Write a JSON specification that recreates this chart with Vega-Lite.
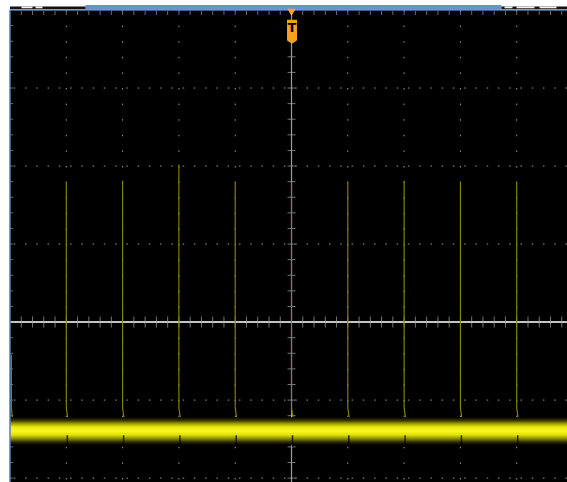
{
  "$schema": "https://vega.github.io/schema/vega-lite/v6.json",
  "width": 557,
  "height": 472,
  "autosize": {"type": "none"},
  "padding": {"left": 10, "top": 10, "right": 0, "bottom": 0},
  "background": "white",
  "config": {"view": {"fill": "black", "stroke": null}},
  "datasets": {
    "one": [{}],
    "majx": [{"x":-4},{"x":-3},{"x":-2},{"x":-1},{"x":1},{"x":2},{"x":3},{"x":4}],
    "majy": [{"y":-2},{"y":-1},{"y":1},{"y":2},{"y":3}],
    "xminor": [{"x":-4.8},{"x":-4.6},{"x":-4.4},{"x":-4.2},{"x":-4},{"x":-3.8},{"x":-3.6},{"x":-3.4},{"x":-3.2},{"x":-3},{"x":-2.8},{"x":-2.6},{"x":-2.4},{"x":-2.2},{"x":-2},{"x":-1.8},{"x":-1.6},{"x":-1.4},{"x":-1.2},{"x":-1},{"x":-0.8},{"x":-0.6},{"x":-0.4},{"x":-0.2},{"x":0.2},{"x":0.4},{"x":0.6},{"x":0.8},{"x":1},{"x":1.2},{"x":1.4},{"x":1.6},{"x":1.8},{"x":2},{"x":2.2},{"x":2.4},{"x":2.6},{"x":2.8},{"x":3},{"x":3.2},{"x":3.4},{"x":3.6},{"x":3.8},{"x":4},{"x":4.2},{"x":4.4},{"x":4.6},{"x":4.8}],
    "yminor": [{"y":-2},{"y":-1.8},{"y":-1.6},{"y":-1.4},{"y":-1.2},{"y":-1},{"y":-0.8},{"y":-0.6},{"y":-0.4},{"y":-0.2},{"y":0.2},{"y":0.4},{"y":0.6},{"y":0.8},{"y":1},{"y":1.2},{"y":1.4},{"y":1.6},{"y":1.8},{"y":2},{"y":2.2},{"y":2.4},{"y":2.6},{"y":2.8},{"y":3},{"y":3.2},{"y":3.4},{"y":3.6},{"y":3.8}],
    "spikes": [
      {"s":-5,"o":0,"x":-4.975,"y":-0.42},{"s":-5,"o":1,"x":-4.975,"y":-1.1},{"s":-5,"o":2,"x":-4.95,"y":-1.28},{"s":-5,"o":3,"x":-4.935,"y":-1.36},
      {"s":-4,"o":0,"x":-4,"y":1.79},{"s":-4,"o":1,"x":-4,"y":-1.1},{"s":-4,"o":2,"x":-3.965,"y":-1.28},{"s":-4,"o":3,"x":-3.95,"y":-1.36},
      {"s":-3,"o":0,"x":-3,"y":1.81},{"s":-3,"o":1,"x":-3,"y":-1.1},{"s":-3,"o":2,"x":-2.965,"y":-1.28},{"s":-3,"o":3,"x":-2.95,"y":-1.36},
      {"s":-2,"o":0,"x":-2,"y":2.02},{"s":-2,"o":1,"x":-2,"y":-1.1},{"s":-2,"o":2,"x":-1.965,"y":-1.28},{"s":-2,"o":3,"x":-1.95,"y":-1.36},
      {"s":-1,"o":0,"x":-1,"y":1.79},{"s":-1,"o":1,"x":-1,"y":-1.1},{"s":-1,"o":2,"x":-0.965,"y":-1.28},{"s":-1,"o":3,"x":-0.95,"y":-1.36},
      {"s":0,"o":0,"x":0,"y":1.8},{"s":0,"o":1,"x":0,"y":-1.1},{"s":0,"o":2,"x":0.035,"y":-1.28},{"s":0,"o":3,"x":0.05,"y":-1.36},
      {"s":1,"o":0,"x":1,"y":1.79},{"s":1,"o":1,"x":1,"y":-1.1},{"s":1,"o":2,"x":1.035,"y":-1.28},{"s":1,"o":3,"x":1.05,"y":-1.36},
      {"s":2,"o":0,"x":2,"y":1.81},{"s":2,"o":1,"x":2,"y":-1.1},{"s":2,"o":2,"x":2.035,"y":-1.28},{"s":2,"o":3,"x":2.05,"y":-1.36},
      {"s":3,"o":0,"x":3,"y":1.79},{"s":3,"o":1,"x":3,"y":-1.1},{"s":3,"o":2,"x":3.035,"y":-1.28},{"s":3,"o":3,"x":3.05,"y":-1.36},
      {"s":4,"o":0,"x":4,"y":1.79},{"s":4,"o":1,"x":4,"y":-1.1},{"s":4,"o":2,"x":4.035,"y":-1.28},{"s":4,"o":3,"x":4.05,"y":-1.36}
    ],
    "pulses": [{"x":-4},{"x":-3},{"x":-2},{"x":-1},{"x":0},{"x":1},{"x":2},{"x":3},{"x":4}],
    "band": [{"x0":-5,"x1":4.9,"hi":-1.22,"lo":-1.575}],
    "blueband": [{"x0":-3.659,"x1":3.73,"hi":4.065,"lo":4.005}],
    "blackbars": [{"x0":-5,"x1":-3.659,"hi":4.045,"lo":4.012},{"x0":3.73,"x1":4.9,"hi":4.045,"lo":4.012}],
    "whitebits": [{"x0":-4.796,"x1":-4.6,"hi":4.045,"lo":4.022},{"x0":-4.547,"x1":-4.422,"hi":4.045,"lo":4.022},{"x0":3.783,"x1":3.925,"hi":4.045,"lo":4.022},{"x0":3.996,"x1":4.316,"hi":4.045,"lo":4.022},{"x0":4.405,"x1":4.707,"hi":4.045,"lo":4.022}]
  },
  "layer": [
    {
      "data": {"name": "majx"},
      "mark": {"type": "rule", "color": "#999999", "strokeWidth": 1, "strokeDash": [1.5, 14.1]},
      "encoding": {
        "x": {"field": "x", "type": "quantitative", "scale": {"domain": [-5, 4.893], "nice": false, "zero": false}, "axis": null}
      }
    },
    {
      "data": {"name": "majy"},
      "mark": {"type": "rule", "color": "#999999", "strokeWidth": 1, "strokeDash": [1.5, 9.76]},
      "encoding": {
        "y": {"field": "y", "type": "quantitative", "scale": {"domain": [-2.05, 4], "nice": false, "zero": false}, "axis": null}
      }
    },
    {
      "data": {"name": "one"},
      "mark": {"type": "rule", "color": "#c4c4c4", "strokeWidth": 2},
      "encoding": {"y": {"datum": 0, "type": "quantitative", "axis": null}}
    },
    {
      "data": {"name": "one"},
      "mark": {"type": "rule", "color": "#9c9c9c", "strokeWidth": 1.2},
      "encoding": {"x": {"datum": 0, "type": "quantitative", "axis": null}}
    },
    {
      "data": {"name": "xminor"},
      "mark": {"type": "tick", "orient": "vertical", "color": "#a6a6a6", "size": 11, "thickness": 1},
      "encoding": {"x": {"field": "x", "type": "quantitative", "axis": null}, "y": {"datum": 0, "type": "quantitative", "axis": null}}
    },
    {
      "data": {"name": "xminor"},
      "mark": {"type": "tick", "orient": "vertical", "color": "#9a9a9a", "size": 4, "thickness": 1},
      "encoding": {"x": {"field": "x", "type": "quantitative", "axis": null}, "y": {"datum": 3.96, "type": "quantitative", "axis": null}}
    },
    {
      "data": {"name": "yminor"},
      "mark": {"type": "tick", "orient": "horizontal", "color": "#a6a6a6", "size": 8, "thickness": 1},
      "encoding": {"y": {"field": "y", "type": "quantitative", "axis": null}, "x": {"datum": 0, "type": "quantitative", "axis": null}}
    },
    {
      "data": {"name": "yminor"},
      "mark": {"type": "tick", "orient": "horizontal", "color": "#9a9a9a", "size": 3, "thickness": 1},
      "encoding": {"y": {"field": "y", "type": "quantitative", "axis": null}, "x": {"datum": -4.97, "type": "quantitative", "axis": null}}
    },
    {
      "data": {"name": "spikes"},
      "mark": {"type": "line", "color": "#8a8a00", "strokeWidth": 1.1},
      "encoding": {
        "x": {"field": "x", "type": "quantitative", "axis": null},
        "y": {"field": "y", "type": "quantitative", "axis": null},
        "detail": {"field": "s"},
        "order": {"field": "o"}
      }
    },
    {
      "data": {"name": "band"},
      "mark": {"type": "rect", "fill": {"gradient": "linear", "x1": 0, "y1": 0, "x2": 0, "y2": 1, "stops": [
        {"offset": 0, "color": "#000000"},
        {"offset": 0.12, "color": "#3a3a00"},
        {"offset": 0.24, "color": "#a6a600"},
        {"offset": 0.36, "color": "#ecec12"},
        {"offset": 0.5, "color": "#f6f626"},
        {"offset": 0.64, "color": "#e2e200"},
        {"offset": 0.77, "color": "#8c8c00"},
        {"offset": 0.9, "color": "#2a2a00"},
        {"offset": 1, "color": "#000000"}]}},
      "encoding": {
        "x": {"field": "x0", "type": "quantitative", "axis": null},
        "x2": {"field": "x1"},
        "y": {"field": "hi", "type": "quantitative", "axis": null},
        "y2": {"field": "lo"}
      }
    },
    {
      "data": {"name": "pulses"},
      "mark": {"type": "rule", "color": "#000000", "strokeWidth": 1.5, "opacity": 0.75, "xOffset": 1},
      "encoding": {
        "x": {"field": "x", "type": "quantitative", "axis": null},
        "y": {"datum": -1.45, "type": "quantitative", "axis": null},
        "y2": {"datum": -1.6}
      }
    },
    {
      "data": {"name": "one"},
      "mark": {"type": "rule", "color": "#4f80b8", "strokeWidth": 1.5},
      "encoding": {"y": {"datum": 4, "type": "quantitative", "axis": null}}
    },
    {
      "data": {"name": "one"},
      "mark": {"type": "rule", "color": "#4f80b8", "strokeWidth": 1.5},
      "encoding": {"x": {"datum": -5, "type": "quantitative", "axis": null}}
    },
    {
      "data": {"name": "blueband"},
      "mark": {"type": "rect", "color": "#6394cc"},
      "encoding": {
        "x": {"field": "x0", "type": "quantitative", "axis": null}, "x2": {"field": "x1"},
        "y": {"field": "hi", "type": "quantitative", "axis": null}, "y2": {"field": "lo"}
      }
    },
    {
      "data": {"name": "blackbars"},
      "mark": {"type": "rect", "color": "#111111"},
      "encoding": {
        "x": {"field": "x0", "type": "quantitative", "axis": null}, "x2": {"field": "x1"},
        "y": {"field": "hi", "type": "quantitative", "axis": null}, "y2": {"field": "lo"}
      }
    },
    {
      "data": {"name": "whitebits"},
      "mark": {"type": "rect", "color": "#f2f2f2"},
      "encoding": {
        "x": {"field": "x0", "type": "quantitative", "axis": null}, "x2": {"field": "x1"},
        "y": {"field": "hi", "type": "quantitative", "axis": null}, "y2": {"field": "lo"}
      }
    },
    {
      "data": {"name": "one"},
      "mark": {"type": "point", "shape": "triangle-down", "filled": true, "color": "#f5a623", "size": 70, "opacity": 1},
      "encoding": {"x": {"datum": 0, "type": "quantitative", "axis": null}, "y": {"datum": 3.97, "type": "quantitative", "axis": null}}
    },
    {
      "data": {"name": "one"},
      "mark": {"type": "point", "shape": "M-1,-2.4L1,-2.4L1,1.7L0,2.4L-1,1.7Z", "filled": true, "color": "#f5a020", "size": 100, "opacity": 1, "xOffset": 0.5},
      "encoding": {"x": {"datum": 0, "type": "quantitative", "axis": null}, "y": {"datum": 3.72, "type": "quantitative", "axis": null}}
    },
    {
      "data": {"name": "one"},
      "mark": {"type": "text", "text": "T", "font": "DejaVu Sans", "fontWeight": "bold", "fontSize": 13, "color": "#000000", "align": "center", "baseline": "middle", "dx": 0.5},
      "encoding": {"x": {"datum": 0, "type": "quantitative", "axis": null}, "y": {"datum": 3.77, "type": "quantitative", "axis": null}}
    }
  ]
}
